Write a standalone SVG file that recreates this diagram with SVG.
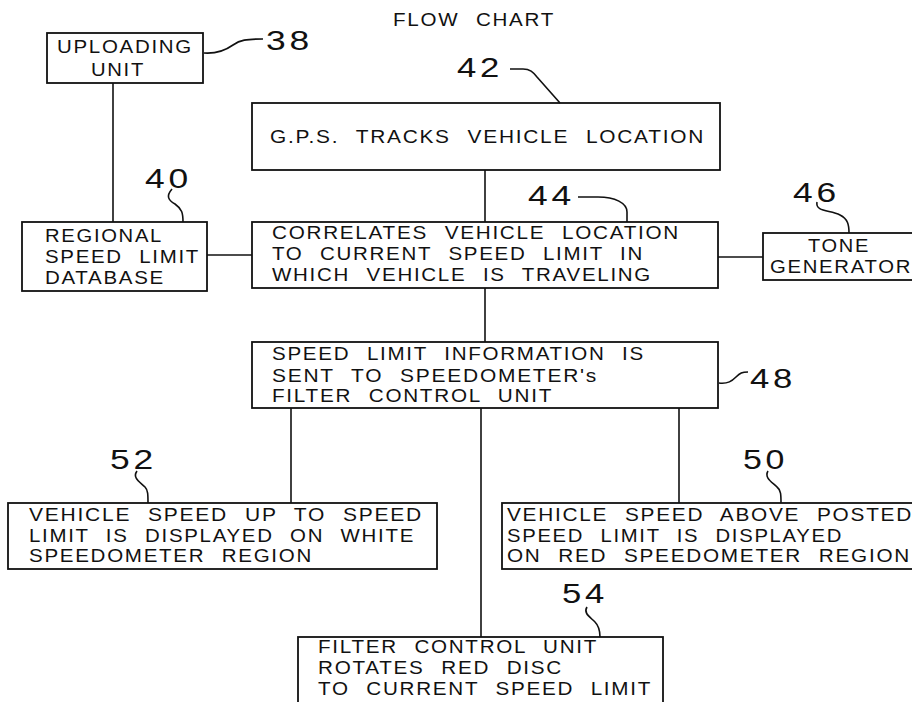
<svg xmlns="http://www.w3.org/2000/svg" width="912" height="702" viewBox="0 0 912 702">
<style>
.box{fill:#fff;stroke:#111;stroke-width:1.8}
.t{font-family:"Liberation Sans",Arial,sans-serif;font-size:18px;letter-spacing:1.5px;word-spacing:8px;fill:#111}
.n{font-family:"Liberation Sans",Arial,sans-serif;font-size:28px;letter-spacing:3px;fill:#111}
.ln{fill:none;stroke:#111;stroke-width:1.6}
.ld{fill:none;stroke:#111;stroke-width:1.6}
</style>
<rect width="912" height="702" fill="#fff"/>
<text class="t" x="393" y="26" textLength="162" lengthAdjust="spacingAndGlyphs">FLOW CHART</text>

<g id="connectors">
<line class="ln" x1="113" y1="83" x2="113" y2="222"/>
<line class="ln" x1="485" y1="170" x2="485" y2="222"/>
<line class="ln" x1="207" y1="255" x2="252" y2="255"/>
<line class="ln" x1="718" y1="257" x2="763" y2="257"/>
<line class="ln" x1="485" y1="288" x2="485" y2="342"/>
<line class="ln" x1="291" y1="408" x2="291" y2="503"/>
<line class="ln" x1="481" y1="408" x2="481" y2="637"/>
<line class="ln" x1="679" y1="408" x2="679" y2="503"/>
</g>

<g id="node-38">
<rect class="box" x="47" y="33" width="156" height="50"/>
<text class="t" x="57" y="53" textLength="136" lengthAdjust="spacingAndGlyphs">UPLOADING</text>
<text class="t" x="91" y="76" textLength="54" lengthAdjust="spacingAndGlyphs">UNIT</text>
</g>

<g id="node-42">
<rect class="box" x="252" y="103" width="468" height="67"/>
<text class="t" x="270" y="143" textLength="435" lengthAdjust="spacingAndGlyphs">G.P.S. TRACKS VEHICLE LOCATION</text>
</g>

<g id="node-40">
<rect class="box" x="22" y="222" width="185" height="69"/>
<text class="t" x="45" y="242" textLength="118" lengthAdjust="spacingAndGlyphs">REGIONAL</text>
<text class="t" x="45" y="263" textLength="155" lengthAdjust="spacingAndGlyphs">SPEED LIMIT</text>
<text class="t" x="45" y="284" textLength="120" lengthAdjust="spacingAndGlyphs">DATABASE</text>
</g>

<g id="node-44">
<rect class="box" x="252" y="222" width="466" height="66"/>
<text class="t" x="272" y="239" textLength="408" lengthAdjust="spacingAndGlyphs">CORRELATES VEHICLE LOCATION</text>
<text class="t" x="272" y="260" textLength="372" lengthAdjust="spacingAndGlyphs">TO CURRENT SPEED LIMIT IN</text>
<text class="t" x="272" y="281" textLength="380" lengthAdjust="spacingAndGlyphs">WHICH VEHICLE IS TRAVELING</text>
</g>

<g id="node-46">
<rect class="box" x="763" y="233" width="160" height="47"/>
<text class="t" x="808" y="252" textLength="62" lengthAdjust="spacingAndGlyphs">TONE</text>
<text class="t" x="770" y="273" textLength="142" lengthAdjust="spacingAndGlyphs">GENERATOR</text>
</g>

<g id="node-48">
<rect class="box" x="252" y="342" width="466" height="66"/>
<text class="t" x="272" y="360" textLength="373" lengthAdjust="spacingAndGlyphs">SPEED LIMIT INFORMATION IS</text>
<text class="t" x="272" y="382" textLength="326" lengthAdjust="spacingAndGlyphs">SENT TO SPEEDOMETER's</text>
<text class="t" x="272" y="402" textLength="281" lengthAdjust="spacingAndGlyphs">FILTER CONTROL UNIT</text>
</g>

<g id="node-52">
<rect class="box" x="8" y="503" width="429" height="66"/>
<text class="t" x="29" y="521" textLength="394" lengthAdjust="spacingAndGlyphs">VEHICLE SPEED UP TO SPEED</text>
<text class="t" x="29" y="542" textLength="386" lengthAdjust="spacingAndGlyphs">LIMIT IS DISPLAYED ON WHITE</text>
<text class="t" x="29" y="562" textLength="284" lengthAdjust="spacingAndGlyphs">SPEEDOMETER REGION</text>
</g>

<g id="node-50">
<rect class="box" x="502" y="503" width="420" height="66"/>
<text class="t" x="507" y="521" textLength="406" lengthAdjust="spacingAndGlyphs">VEHICLE SPEED ABOVE POSTED</text>
<text class="t" x="507" y="542" textLength="336" lengthAdjust="spacingAndGlyphs">SPEED LIMIT IS DISPLAYED</text>
<text class="t" x="507" y="562" textLength="404" lengthAdjust="spacingAndGlyphs">ON RED SPEEDOMETER REGION</text>
</g>

<g id="node-54">
<rect class="box" x="298" y="637" width="365" height="80"/>
<text class="t" x="318" y="653" textLength="280" lengthAdjust="spacingAndGlyphs">FILTER CONTROL UNIT</text>
<text class="t" x="318" y="674" textLength="245" lengthAdjust="spacingAndGlyphs">ROTATES RED DISC</text>
<text class="t" x="318" y="695" textLength="334" lengthAdjust="spacingAndGlyphs">TO CURRENT SPEED LIMIT</text>
</g>

<g id="refs">
<path class="ld" d="M204,53 C218,54 226,50 233,45 C240,40 246,39 263,39"/>
<text class="n" x="266" y="50" textLength="47" lengthAdjust="spacingAndGlyphs">38</text>
<path class="ld" d="M510,69 L523,69 C530,69 533,72 537,77 L560,103"/>
<text class="n" x="457" y="77" textLength="46" lengthAdjust="spacingAndGlyphs">42</text>
<path class="ld" d="M172,189 C166,196 168,200 175,204 C182,209 183,213 183,222"/>
<text class="n" x="145" y="188" textLength="47" lengthAdjust="spacingAndGlyphs">40</text>
<path class="ld" d="M578,197 L598,197 C615,197 627,203 627,212 L627,222"/>
<text class="n" x="528" y="205" textLength="47" lengthAdjust="spacingAndGlyphs">44</text>
<path class="ld" d="M817,202 C815,212 830,210 840,215 C848,219 849,225 849,233"/>
<text class="n" x="793" y="202" textLength="47" lengthAdjust="spacingAndGlyphs">46</text>
<path class="ld" d="M719,383 C728,384 732,381 736,377 C740,373 742,372 748,372"/>
<text class="n" x="750" y="388" textLength="46" lengthAdjust="spacingAndGlyphs">48</text>
<path class="ld" d="M137,471 C132,478 140,482 145,487 C148,490 148,495 148,503"/>
<text class="n" x="110" y="469" textLength="47" lengthAdjust="spacingAndGlyphs">52</text>
<path class="ld" d="M768,471 C764,478 772,482 777,487 C781,490 781,495 781,503"/>
<text class="n" x="743" y="469" textLength="45" lengthAdjust="spacingAndGlyphs">50</text>
<path class="ld" d="M587,607 C583,613 590,617 595,622 C599,626 600,630 600,637"/>
<text class="n" x="562" y="603" textLength="46" lengthAdjust="spacingAndGlyphs">54</text>
</g>
</svg>
